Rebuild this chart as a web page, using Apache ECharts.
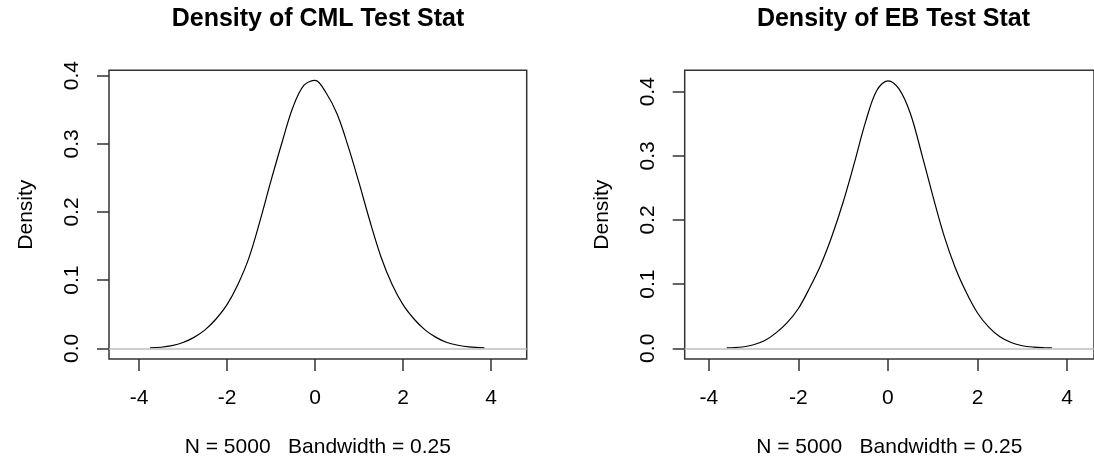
<!DOCTYPE html>
<html>
<head>
<meta charset="utf-8">
<script src="https://cdn.jsdelivr.net/npm/echarts@6/dist/echarts.min.js"></script>
<style>
  html, body { margin: 0; padding: 0; background: #fff; }
  #main { width: 1094px; height: 466px; }
</style>
</head>
<body>
<div id="main"></div>
<script>
// density of CML test stat
const cmlX = [-3.75, -3.5, -3.25, -3.0, -2.75, -2.5, -2.25, -2.0, -1.75, -1.5, -1.25, -1.0, -0.75, -0.5, -0.25, 0.0, 0.25, 0.5, 0.75, 1.0, 1.25, 1.5, 1.75, 2.0, 2.25, 2.5, 2.75, 3.0, 3.25, 3.5, 3.85];
const cmlY = [0.0005, 0.0015, 0.0038, 0.0085, 0.016, 0.027, 0.043, 0.064, 0.094, 0.133, 0.187, 0.246, 0.302, 0.354, 0.386, 0.393, 0.375, 0.344, 0.297, 0.243, 0.186, 0.134, 0.094, 0.064, 0.043, 0.027, 0.016, 0.0085, 0.0045, 0.002, 0.0005];

// density of EB test stat
const ebX = [-3.6, -3.5, -3.25, -3.0, -2.75, -2.5, -2.25, -2.0, -1.75, -1.5, -1.25, -1.0, -0.75, -0.5, -0.25, 0.0, 0.25, 0.5, 0.75, 1.0, 1.25, 1.5, 1.75, 2.0, 2.25, 2.5, 2.75, 3.0, 3.25, 3.5, 3.66];
const ebY = [0.0005, 0.0008, 0.002, 0.0055, 0.012, 0.024, 0.040, 0.062, 0.094, 0.130, 0.175, 0.228, 0.289, 0.353, 0.402, 0.417, 0.404, 0.366, 0.304, 0.238, 0.176, 0.126, 0.087, 0.055, 0.033, 0.018, 0.009, 0.004, 0.0018, 0.0008, 0.0005];

const xTicks = [-4, -2, 0, 2, 4];
const yTicks = [0, 0.1, 0.2, 0.3, 0.4];
const titles = ['Density of CML Test Stat', 'Density of EB Test Stat'];
const xLabel = 'N = 5000   Bandwidth = 0.25';

const font = 'Liberation Sans, Arial, sans-serif';

function zip(xs, ys) {
  let out = [];
  for (let i = 0; i < xs.length; i++) out.push([xs[i], ys[i]]);
  return out;
}

function xAxisOpt(idx, min, max) {
  return {
    type: 'value', gridIndex: idx, min: min, max: max,
    name: xLabel, nameLocation: 'middle', nameGap: 78,
    nameTextStyle: { fontFamily: font, fontSize: 21, color: '#000' },
    axisLine: { show: false, onZero: false },
    axisTick: { show: true, length: 12, customValues: xTicks, lineStyle: { color: '#333', width: 1.5 } },
    axisLabel: { customValues: xTicks, margin: 29, fontFamily: font, fontSize: 21, color: '#000' },
    splitLine: { show: false }
  };
}

function yAxisOpt(idx, min, max) {
  return {
    type: 'value', gridIndex: idx, min: min, max: max,
    name: 'Density', nameLocation: 'middle', nameGap: 72, nameRotate: 90,
    nameTextStyle: { fontFamily: font, fontSize: 21, color: '#000' },
    axisLine: { show: false, onZero: false },
    axisTick: { show: true, length: 12, customValues: yTicks, lineStyle: { color: '#333', width: 1.5 } },
    axisLabel: {
      customValues: yTicks, rotate: 90, margin: 26,
      fontFamily: font, fontSize: 21, color: '#000',
      formatter: v => v.toFixed(1)
    },
    splitLine: { show: false }
  };
}

function seriesOpt(idx, data) {
  return {
    type: 'line', xAxisIndex: idx, yAxisIndex: idx,
    data: data, showSymbol: false, smooth: 0.35,
    lineStyle: { color: '#000', width: 1.2 },
    silent: true,
    markLine: {
      silent: true, symbol: 'none', label: { show: false },
      lineStyle: { color: '#bebebe', width: 1.5, type: 'solid' },
      data: [{ yAxis: 0 }]
    }
  };
}

const chart = echarts.init(document.getElementById('main'));
chart.setOption({
  animation: false,
  title: [
    { text: titles[0], left: 318, top: 7, textAlign: 'center', padding: 0,
      textStyle: { fontFamily: font, fontSize: 25, fontWeight: 'bold', color: '#000' } },
    { text: titles[1], left: 893.5, top: 7, textAlign: 'center', padding: 0,
      textStyle: { fontFamily: font, fontSize: 25, fontWeight: 'bold', color: '#000' } }
  ],
  grid: [
    { left: 109, right: 567.3, top: 70.3, bottom: 107, show: true, borderColor: '#333', borderWidth: 1.5 },
    { left: 684.7, right: -8.4, top: 70.3, bottom: 107, show: true, borderColor: '#333', borderWidth: 1.5 }
  ],
  xAxis: [xAxisOpt(0, -4.682, 4.811), xAxisOpt(1, -4.538, 4.60)],
  yAxis: [yAxisOpt(0, -0.0157, 0.4079), yAxisOpt(1, -0.0167, 0.4334)],
  series: [seriesOpt(0, zip(cmlX, cmlY)), seriesOpt(1, zip(ebX, ebY))]
});
</script>
</body>
</html>
